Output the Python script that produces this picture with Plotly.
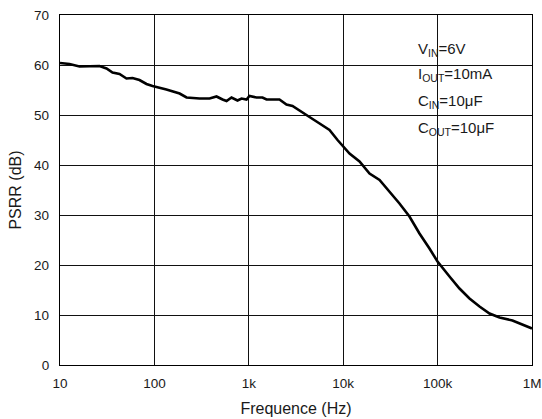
import plotly.graph_objects as go

freq_hz = [10, 12.6, 16.1, 20.5, 26.2, 31.1, 36, 42.7, 50.6, 58.6, 69.5, 82.4, 95.5,
           134, 185, 219, 301, 384, 455, 527, 581, 656, 741, 759, 838, 946, 1016,
           1205, 1396, 1542, 2113, 2506, 2904, 3281, 3443, 4395, 5212, 7161, 8710,
           10070, 11670, 14890, 19010, 24270, 30970, 39450, 50350, 64270, 82030,
           99770, 133700, 170600, 217800, 278000, 354800, 452900, 620900, 794300, 1000000]
psrr_db = [60.4, 60.2, 59.7, 59.7, 59.8, 59.3, 58.5, 58.2, 57.3, 57.4, 57.0, 56.2, 55.8,
           55.1, 54.3, 53.5, 53.3, 53.3, 53.7, 53.1, 52.8, 53.5, 53.1, 52.9, 53.3, 53.1, 53.8,
           53.5, 53.5, 53.1, 53.1, 52.1, 51.8, 51.1, 50.9, 49.6, 48.7, 47.0, 45.0,
           43.7, 42.3, 40.7, 38.3, 37.0, 34.7, 32.3, 29.7, 26.3, 23.3,
           20.7, 17.7, 15.3, 13.3, 11.7, 10.3, 9.5, 8.9, 8.1, 7.3]

x_tickvals = [10, 100, 1000, 10000, 100000, 1000000]
x_ticktext = ["10", "100", "1k", "10k", "100k", "1M"]
y_tickvals = [0, 10, 20, 30, 40, 50, 60, 70]

cond_lines = ["V<sub>IN</sub>=6V", "I<sub>OUT</sub>=10mA",
              "C<sub>IN</sub>=10μF", "C<sub>OUT</sub>=10μF"]

FONT = "Liberation Sans, Arial, sans-serif"

fig = go.Figure()
fig.add_trace(go.Scatter(x=freq_hz, y=psrr_db, mode="lines",
                         line=dict(color="black", width=2.6), showlegend=False,
                         hoverinfo="skip"))

fig.update_layout(
    width=542, height=419,
    margin=dict(l=60, r=10, t=15, b=54),
    paper_bgcolor="white", plot_bgcolor="white",
    font=dict(family=FONT, color="#1a1a1a", size=13.5),
)
fig.update_xaxes(type="log", range=[1, 6], tickvals=x_tickvals, ticktext=x_ticktext,
                 showgrid=True, gridcolor="#111111", gridwidth=1,
                 showline=True, mirror=True, linecolor="black", linewidth=1.3,
                 ticks="", ticklabelstandoff=6, zeroline=False, automargin=False,
                 title=dict(text="Frequence (Hz)", font=dict(size=16), standoff=12))
fig.update_yaxes(range=[0, 70], tickvals=y_tickvals,
                 showgrid=True, gridcolor="#111111", gridwidth=1,
                 showline=True, mirror=True, linecolor="black", linewidth=1.3,
                 ticks="", ticklabelstandoff=7, zeroline=False, automargin=False,
                 title=dict(text="PSRR (dB)", font=dict(size=16), standoff=8))

fig.add_shape(type="rect", xref="paper", yref="paper", x0=0.747, x1=0.935, y0=0.606, y1=0.997,
              fillcolor="white", line=dict(width=0), layer="between")

ys = [0.90, 0.829, 0.754, 0.677]
for txt, yy in zip(cond_lines, ys):
    fig.add_annotation(xref="paper", yref="paper", x=0.755, y=yy, text=txt,
                       showarrow=False, xanchor="left", yanchor="middle",
                       font=dict(size=15, color="#1a1a1a"))

fig.write_html("out.html", config={"displayModeBar": False},
               post_script="document.body.style.margin='0';document.body.style.overflow='hidden';")
